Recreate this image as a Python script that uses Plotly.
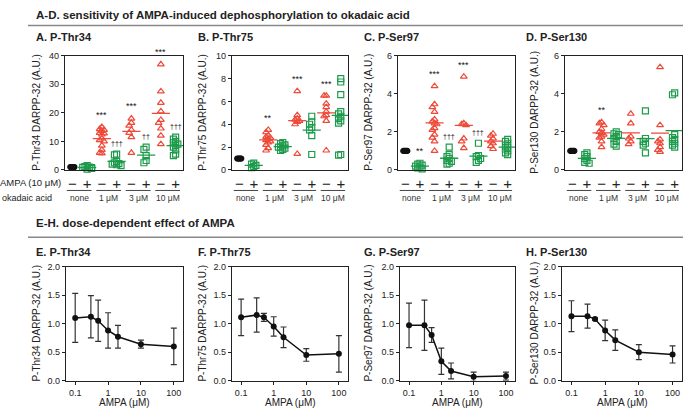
import plotly.graph_objects as go
import numpy as np

W, H = 683, 413

# ---------------- data: A-D (okadaic acid) ----------------
okadaic_labels = ["none", "1 μM", "3 μM", "10 μM"]
ampa_signs = ["−", "+", "−", "+", "−", "+", "−", "+"]

thr34_values = [
    [1.0, 1.0, 1.0, 1.0, 1.0],
    [0.3, 0.5, 0.6, 0.8, 0.9, 1.0, 1.2, 1.5],
    [15.0, 14.3, 14.0, 13.7, 13.0, 12.8, 12.4, 11.0, 10.4, 10.0, 8.5, 7.0, 6.0, 5.8],
    [5.5, 5.3, 3.0, 2.5, 2.2, 2.0, 1.8, 1.5],
    [18.0, 16.5, 15.5, 14.0, 13.0, 11.5, 6.0],
    [8.0, 7.2, 5.0, 3.3, 2.5],
    [37.0, 27.5, 23.5, 20.5, 17.5, 16.5, 14.5, 12.0, 9.0],
    [11.5, 10.8, 10.0, 9.5, 9.0, 8.5, 8.0, 7.0, 5.5, 5.0],
]
thr75_values = [
    [1.0, 1.0, 1.0, 1.0, 1.0],
    [0.2, 0.3, 0.4, 0.5, 0.6],
    [3.5, 3.3, 3.0, 2.9, 2.8, 2.7, 2.6, 2.5, 2.4, 2.2, 1.9, 1.7],
    [2.4, 2.3, 2.2, 2.1, 2.0, 2.0, 1.9, 1.8, 1.7],
    [6.9, 4.8, 4.5, 4.4, 4.3, 4.2, 4.0, 1.4],
    [4.7, 4.2, 4.0, 3.7, 3.5, 3.0, 1.35],
    [6.5, 6.5, 5.8, 5.5, 5.1, 4.8, 4.7, 4.3, 1.7],
    [8.0, 7.7, 6.6, 5.1, 4.9, 4.7, 4.5, 4.3, 4.1, 1.35, 1.3],
]
ser97_values = [
    [1.0, 1.0, 1.0, 1.0, 1.0],
    [0.35, 0.3, 0.25, 0.2, 0.15, 0.1, 0.05],
    [4.4, 3.45, 3.3, 3.05, 2.65, 2.55, 2.45, 2.4, 2.2, 2.1, 1.85, 1.7, 1.5, 1.0],
    [1.2, 0.8, 0.7, 0.6, 0.5, 0.45, 0.35, 0.3],
    [4.9, 2.45, 2.4, 2.35, 1.65, 1.5, 1.15],
    [1.4, 0.75, 0.7, 0.6, 0.5, 0.4],
    [1.9, 1.8, 1.65, 1.5, 1.4, 1.25, 1.1],
    [1.6, 1.5, 1.4, 1.3, 1.2, 1.1, 1.0, 0.9, 0.8],
]
ser130_values = [
    [1.0, 1.0, 1.0, 1.0, 1.0],
    [0.9, 0.8, 0.7, 0.6, 0.5, 0.4, 0.35],
    [2.5, 2.45, 2.35, 2.15, 2.0, 1.95, 1.85, 1.75, 1.7, 1.5, 1.2],
    [2.0, 1.9, 1.85, 1.75, 1.65, 1.5, 1.35, 1.25],
    [2.95, 2.45, 1.75, 1.65, 1.5, 1.35],
    [3.1, 1.65, 1.5, 1.4, 1.3, 0.9],
    [5.4, 2.35, 1.6, 1.5, 1.4, 1.2, 1.05, 0.95],
    [4.05, 3.95, 1.85, 1.7, 1.6, 1.5, 1.4, 1.3, 1.2],
]
thr34_marks = ["", "", "***", "†††", "***", "††", "***", "†††"]
thr75_marks = ["", "", "**", "", "***", "", "***", ""]
ser97_marks = ["", "**", "***", "†††", "***", "†††", "", ""]
ser130_marks = ["", "", "**", "", "", "", "", ""]

# ---------------- data: E-H (dose response) ----------------
ampa_conc = [0.1, 0.3, 0.5, 1, 2, 10, 100]
thr34_mean = [1.10, 1.12, 1.05, 0.88, 0.77, 0.64, 0.60]
thr34_err = [0.43, 0.37, 0.36, 0.31, 0.20, 0.07, 0.32]
thr75_mean = [1.11, 1.15, 1.11, 0.95, 0.76, 0.45, 0.47]
thr75_err = [0.32, 0.30, 0.07, 0.17, 0.18, 0.11, 0.32]
ser97_mean = [0.97, 0.97, 0.80, 0.34, 0.17, 0.07, 0.08]
ser97_err = [0.39, 0.44, 0.13, 0.23, 0.14, 0.08, 0.07]
ser130_mean = [1.13, 1.13, 1.08, 0.88, 0.71, 0.50, 0.46]
ser130_err = [0.27, 0.21, 0.02, 0.18, 0.18, 0.13, 0.15]

# ---------------- styling / layout ----------------
RED = "#ee4a3a"
GREEN = "#1e9a4c"
FONT = "Liberation Sans, Arial, sans-serif"
TXT = "#222"

def px(x):
    return x / W

def py(y):
    return 1 - y / H

top_y = (52, 169)
bot_y = (268, 385)
top_x = [(65, 183), (232, 348), (398, 515), (565, 682)]
bot_x = [(66, 183), (232, 348), (400, 515), (562, 682)]
top_ranges = [40, 10, 6, 6]
top_dticks = [10, 2, 2, 2]
top_titles = ["P-Thr34 DARPP-32 (A.U.)", "P-Thr75 DARPP-32 (A.U.)",
              "P-Ser97 DARPP-32 (A.U.)", "P-Ser130 DARPP-32 (A.U.)"]
top_panel_names = ["A. P-Thr34", "B. P-Thr75", "C. P-Ser97", "D. P-Ser130"]
bot_panel_names = ["E. P-Thr34", "F. P-Thr75", "G. P-Ser97", "H. P-Ser130"]
panel_name_x = [34, 196, 362, 524]
ytitle_x = [37, 203, 369, 535]

top_data = [thr34_values, thr75_values, ser97_values, ser130_values]
top_marks = [thr34_marks, thr75_marks, ser97_marks, ser130_marks]
bot_means = [thr34_mean, thr75_mean, ser97_mean, ser130_mean]
bot_errs = [thr34_err, thr75_err, ser97_err, ser130_err]

fig = go.Figure()
annotations = []
shapes = []


def note(x, y, text, size, xanchor="center", yanchor="middle", angle=0, bold=False):
    annotations.append(dict(
        x=x, y=y, xref="paper", yref="paper",
        text=f"<b>{text}</b>" if bold else text, showarrow=False,
        xanchor=xanchor, yanchor=yanchor, textangle=angle,
        font=dict(size=size, family=FONT, color=TXT)))


def swarm_offsets(vals, px_per_unit, step=0.15, min_px=3.5):
    order = np.argsort(vals)[::-1]
    placed = []
    offs = [0.0] * len(vals)
    cands = [0, -1, 1, -2, 2]
    for i in order:
        yv = vals[i] * px_per_unit
        xo = 0.0
        for c in cands:
            xo = c * step
            ok = True
            for (xp, yp) in placed:
                if abs(xp - xo) < step * 0.9 and abs(yp - yv) < min_px:
                    ok = False
                    break
            if ok:
                break
        offs[i] = xo
        placed.append((xo, yv))
    return offs


axis_base = dict(showgrid=False, zeroline=False, showline=True, mirror=True,
                 linecolor="#222", linewidth=1.2, ticks="outside", ticklen=3,
                 tickwidth=1, tickcolor="#222",
                 tickfont=dict(size=9, family=FONT, color=TXT))

for p in range(4):
    ax = 2 * p + 1
    xa = "x" if ax == 1 else f"x{ax}"
    ya = "y" if ax == 1 else f"y{ax}"
    rng = top_ranges[p]
    ppu = (top_y[1] - top_y[0]) / rng
    for g, vals in enumerate(top_data[p]):
        if g == 0:
            color, sym, size = "#111", "circle", 5
            offs = swarm_offsets(vals, ppu, step=0.07)
        elif g % 2 == 1:
            color, sym, size = GREEN, "square-open", 6
            offs = swarm_offsets(vals, ppu)
        else:
            color, sym, size = RED, "triangle-up-open", 6
            offs = swarm_offsets(vals, ppu)
        xs = [g + o for o in offs]
        fig.add_trace(go.Scatter(
            x=xs, y=vals, mode="markers", xaxis=xa, yaxis=ya, cliponaxis=False,
            marker=dict(symbol=sym, size=size, color=color,
                        line=dict(color=color, width=1.2)),
            showlegend=False, hoverinfo="y"))
        if g > 0:
            fig.add_trace(go.Scatter(
                x=[g], y=[float(np.mean(vals))], mode="markers", xaxis=xa, yaxis=ya,
                marker=dict(symbol="line-ew", size=13, line=dict(color=color, width=1.3)),
                showlegend=False, hoverinfo="y"))
        mk = top_marks[p][g]
        if mk:
            annotations.append(dict(
                x=g, y=max(vals) + 0.045 * rng, xref=xa, yref=ya, text=mk,
                showarrow=False, xanchor="center", yanchor="bottom",
                font=dict(size=9 if "*" in mk else 7, family=FONT, color="#111")))
    for k, lab in enumerate(okadaic_labels):
        shapes.append(dict(type="line", xref=xa, yref=f"{ya} domain",
                           x0=2 * k - 0.38, x1=2 * k + 1.3, y0=-0.18, y1=-0.18,
                           line=dict(color="#444", width=1)))
        annotations.append(dict(x=2 * k + 0.45, y=-0.25, xref=xa, yref=f"{ya} domain",
                                text=lab, showarrow=False, xanchor="center",
                                yanchor="middle",
                                font=dict(size=8.5, family=FONT, color="#333")))
    x0, x1 = top_x[p]
    fig.update_layout(**{
        ("xaxis" if ax == 1 else f"xaxis{ax}"): dict(
            axis_base, domain=[px(x0), px(x1)], anchor=ya, range=[-0.5, 7.5],
            tickvals=list(range(8)), ticktext=ampa_signs, ticks="",
            tickfont=dict(size=15, family=FONT, color=TXT)),
        ("yaxis" if ax == 1 else f"yaxis{ax}"): dict(
            axis_base, domain=[py(top_y[1]), py(top_y[0])], anchor=xa,
            range=[0, rng], dtick=top_dticks[p]),
    })
    note(px(ytitle_x[p]), py((top_y[0] + top_y[1]) / 2), top_titles[p], 10, angle=-90)
    note(px(panel_name_x[p]), py(33), top_panel_names[p], 11, xanchor="left", bold=True)

for p in range(4):
    ax = 2 * p + 2
    xa, ya = f"x{ax}", f"y{ax}"
    fig.add_trace(go.Scatter(
        x=ampa_conc, y=bot_means[p], mode="lines+markers", xaxis=xa, yaxis=ya,
        line=dict(color="#111", width=1.5),
        marker=dict(symbol="circle", size=6, color="#111"),
        error_y=dict(type="data", array=bot_errs[p], visible=True,
                     color="#333", thickness=1.2, width=3),
        showlegend=False, cliponaxis=False))
    x0, x1 = bot_x[p]
    fig.update_layout(**{
        f"xaxis{ax}": dict(axis_base, domain=[px(x0), px(x1)], anchor=ya, type="log",
                           range=[-1.28, 2.28], tickvals=[0.1, 1, 10, 100],
                           ticktext=["0.1", "1", "10", "100"]),
        f"yaxis{ax}": dict(axis_base, domain=[py(bot_y[1]), py(bot_y[0])], anchor=xa,
                           range=[0, 2], dtick=0.5, tickformat=".1f"),
    })
    note(px(ytitle_x[p]), py((bot_y[0] + bot_y[1]) / 2), top_titles[p], 10, angle=-90)
    note(px((x0 + x1) / 2), py(407), "AMPA (μM)", 10)
    note(px(panel_name_x[p]), py(253), bot_panel_names[p], 11, xanchor="left", bold=True)

note(px(63), py(182), "AMPA (10 μM)", 9.5, xanchor="right")
note(px(54), py(198), "okadaic acid", 9, xanchor="right")
note(px(34), py(10), "A-D. sensitivity of AMPA-induced dephosphorylation to okadaic acid",
     11.5, xanchor="left", bold=True)
note(px(34), py(223), "E-H. dose-dependent effect of AMPA", 11.5, xanchor="left", bold=True)

shapes += [
    dict(type="line", xref="paper", yref="paper", x0=px(28), x1=1, y0=py(21), y1=py(21),
         line=dict(color="#888", width=1.5)),
    dict(type="line", xref="paper", yref="paper", x0=px(28), x1=1, y0=py(238), y1=py(238),
         line=dict(color="#888", width=1.5)),
]

fig.update_layout(width=W, height=H, margin=dict(l=0, r=0, t=0, b=0),
                  paper_bgcolor="white", plot_bgcolor="white",
                  annotations=annotations, shapes=shapes,
                  font=dict(family=FONT))
fig.write_html("out.html", config={"displayModeBar": False},
               post_script="document.body.style.margin='0';document.body.style.overflow='hidden';")
